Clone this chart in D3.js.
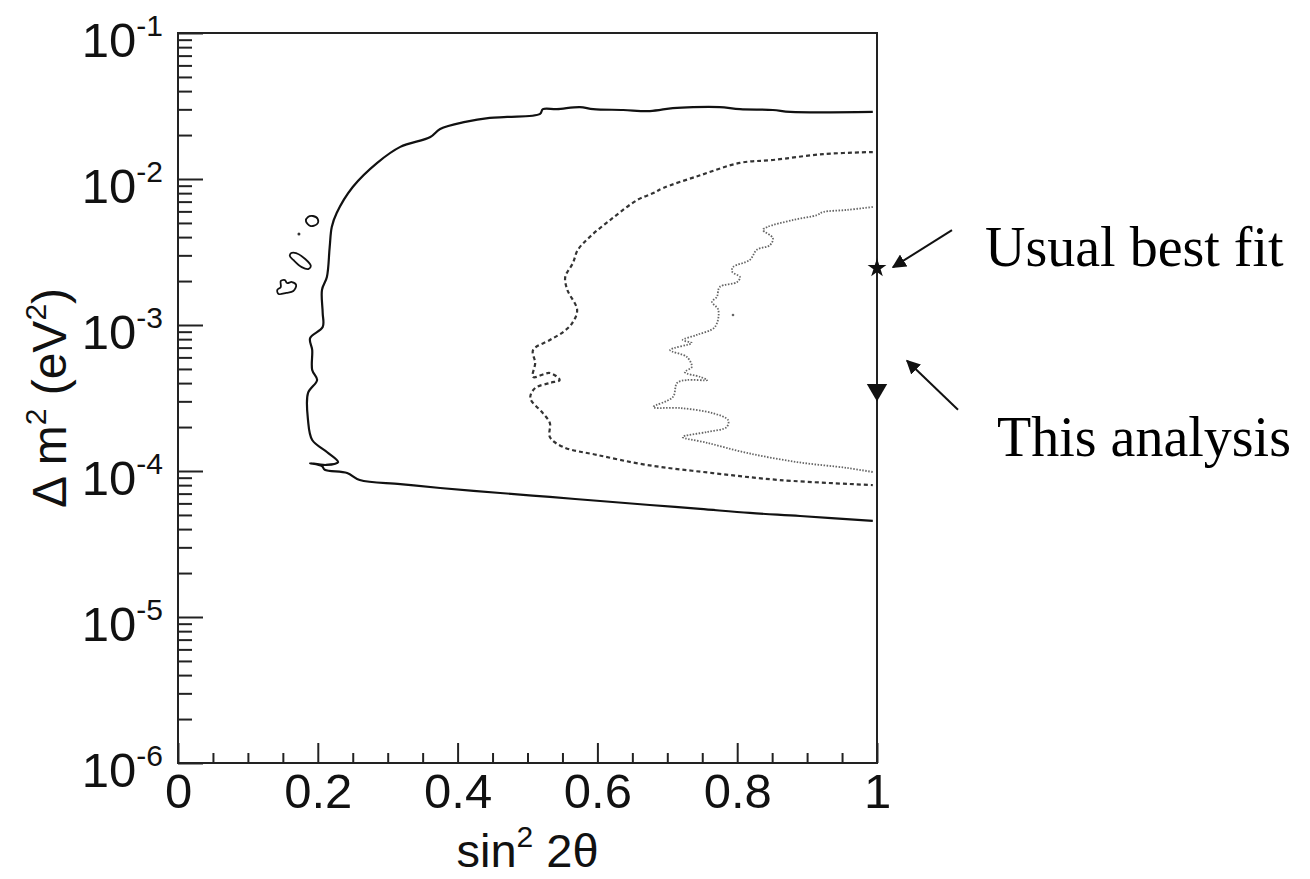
<!DOCTYPE html>
<html>
<meta charset="utf-8">
<style>
  body { margin: 0; background: #fff; }
  .tick line { stroke: #222; stroke-width: 2; }
  .tick text { font-family: "Liberation Sans", Arial, sans-serif; fill: #111; }
  .frame { fill: none; stroke: #222; stroke-width: 2; }
  .contour { fill: none; }
</style>

<body>
  <script src="https://d3js.org/d3.v7.min.js"></script>

  <script>
    let width = 1310,
      height = 879;

    let margin = { top: 33, right: 433, bottom: 116, left: 178 };
    let plotW = width - margin.left - margin.right,
      plotH = height - margin.top - margin.bottom;

    // axis ticks
    let xMajor = [0, 0.2, 0.4, 0.6, 0.8, 1];
    let xMinor = [0.05, 0.1, 0.15, 0.25, 0.3, 0.35, 0.45, 0.5, 0.55, 0.65, 0.7, 0.75, 0.85, 0.9, 0.95];
    let yExponents = [-1, -2, -3, -4, -5, -6];

    // outer contour (solid), [sin^2 2theta, dm^2]
    let contourOuter = [
      [0.994, 2.88e-2], [0.876, 2.88e-2], [0.851, 2.97e-2], [0.804, 3.01e-2], [0.775, 3.11e-2],
      [0.737, 3.11e-2], [0.708, 3.06e-2], [0.675, 2.92e-2], [0.637, 2.97e-2], [0.594, 3.01e-2],
      [0.575, 3.11e-2], [0.542, 3.01e-2], [0.522, 3.01e-2], [0.518, 2.79e-2], [0.471, 2.66e-2],
      [0.446, 2.62e-2], [0.411, 2.46e-2], [0.375, 2.20e-2], [0.361, 1.94e-2], [0.318, 1.66e-2],
      [0.285, 1.29e-2], [0.250, 8.81e-3], [0.227, 5.85e-3], [0.220, 4.69e-3], [0.217, 3.42e-3],
      [0.213, 2.13e-3], [0.206, 1.74e-3], [0.207, 1.21e-3], [0.207, 9.68e-4], [0.189, 8.14e-4],
      [0.192, 6.74e-4], [0.192, 4.92e-4], [0.199, 4.20e-4], [0.186, 3.42e-4], [0.186, 2.23e-4],
      [0.192, 1.63e-4], [0.213, 1.35e-4], [0.229, 1.15e-4], [0.212, 1.10e-4], [0.189, 1.13e-4],
      [0.206, 1.08e-4], [0.210, 1.02e-4], [0.242, 9.68e-5], [0.260, 8.67e-5], [0.318, 8.14e-5],
      [0.375, 7.65e-5], [0.461, 7.07e-5], [0.532, 6.64e-5], [0.604, 6.23e-5], [0.675, 5.85e-5],
      [0.747, 5.50e-5], [0.818, 5.16e-5], [0.890, 4.92e-5], [0.994, 4.55e-5]
    ];

    // middle contour (dashed)
    let contourMiddle = [
      [0.994, 1.53e-2], [0.923, 1.48e-2], [0.851, 1.35e-2], [0.804, 1.29e-2], [0.747, 1.06e-2],
      [0.694, 8.67e-3], [0.680, 8.01e-3], [0.657, 7.18e-3], [0.622, 5.41e-3], [0.589, 4.01e-3],
      [0.572, 3.27e-3], [0.565, 2.66e-3], [0.554, 2.13e-3], [0.557, 1.74e-3], [0.571, 1.27e-3],
      [0.564, 1.03e-3], [0.551, 8.95e-4], [0.532, 7.89e-4], [0.508, 6.74e-4], [0.511, 5.50e-4],
      [0.508, 4.41e-4], [0.532, 4.69e-4], [0.546, 4.20e-4], [0.532, 4.01e-4], [0.511, 3.70e-4],
      [0.504, 3.16e-4], [0.522, 2.49e-4], [0.532, 2.13e-4], [0.532, 1.71e-4], [0.551, 1.46e-4],
      [0.599, 1.29e-4], [0.671, 1.10e-4], [0.765, 9.68e-5], [0.861, 8.67e-5], [0.994, 8.01e-5]
    ];

    // inner contour (dotted)
    let contourInner = [
      [0.994, 6.43e-3], [0.957, 6.14e-3], [0.923, 5.94e-3], [0.914, 5.66e-3], [0.880, 5.24e-3],
      [0.843, 4.69e-3], [0.837, 4.48e-3], [0.851, 3.94e-3], [0.847, 3.53e-3], [0.828, 3.27e-3],
      [0.818, 2.79e-3], [0.794, 2.49e-3], [0.793, 2.31e-3], [0.804, 2.13e-3], [0.800, 1.97e-3],
      [0.775, 1.82e-3], [0.771, 1.56e-3], [0.764, 1.44e-3], [0.773, 1.27e-3], [0.768, 9.68e-4],
      [0.742, 8.55e-4], [0.722, 7.89e-4], [0.735, 7.53e-4], [0.704, 6.74e-4], [0.728, 6.04e-4],
      [0.735, 5.16e-4], [0.725, 4.76e-4], [0.747, 4.41e-4], [0.757, 4.20e-4], [0.728, 4.20e-4],
      [0.714, 4.01e-4], [0.708, 3.21e-4], [0.680, 2.74e-4], [0.718, 2.70e-4], [0.765, 2.49e-4],
      [0.787, 2.23e-4], [0.785, 2.00e-4], [0.757, 1.85e-4], [0.722, 1.71e-4], [0.757, 1.56e-4],
      [0.814, 1.33e-4], [0.886, 1.15e-4], [0.957, 1.05e-4], [0.994, 9.84e-5]
    ];
    let innerSpeck = [[0.794, 1.17e-3]];

    // small closed islands of the outer contour
    let islands = [
      [[0.183, 5.15e-3], [0.186, 5.50e-3], [0.193, 5.58e-3], [0.200, 5.32e-3], [0.199, 4.92e-3], [0.190, 4.76e-3]],
      [[0.162, 3.11e-3], [0.169, 3.11e-3], [0.182, 2.83e-3], [0.190, 2.54e-3], [0.187, 2.42e-3],
       [0.177, 2.49e-3], [0.165, 2.79e-3], [0.160, 2.97e-3]],
      [[0.147, 2.00e-3], [0.153, 2.03e-3], [0.156, 1.94e-3], [0.163, 1.97e-3], [0.169, 1.88e-3],
       [0.165, 1.71e-3], [0.155, 1.66e-3], [0.144, 1.63e-3], [0.142, 1.74e-3], [0.147, 1.82e-3]]
    ];
    let outerSpeck = [[0.173, 4.20e-3]];

    // best fit points
    let usualFit = { s: 1, dm2: 2.45e-3, label: "Usual best fit" };
    let thisFit = { s: 1, dm2: 3.6e-4, label: "This analysis" };

    let svg = d3.select("body").append("svg")
      .attr("width", width)
      .attr("height", height);

    let g = svg.append("g")
      .attr("transform", `translate(${margin.left},${margin.top})`);

    let x = d3.scaleLinear().domain([0, 1]).range([0, plotW]);
    let y = d3.scaleLog().domain([1e-6, 1e-1]).range([plotH, 0]);

    let yMinor = [];
    yExponents.slice(0, -1).forEach(e => {
      for (let k = 2; k <= 9; k++) yMinor.push(k * Math.pow(10, e - 1));
    });

    function drawAxes() {
      // x minor ticks
      g.append("g")
        .attr("transform", `translate(0,${plotH})`)
        .call(d3.axisBottom(x).tickValues(xMinor).tickSize(-10).tickFormat(""))
        .call(a => a.select(".domain").remove());

      // x major ticks + labels
      g.append("g")
        .attr("transform", `translate(0,${plotH})`)
        .call(d3.axisBottom(x).tickValues(xMajor).tickSize(-20).tickPadding(10)
          .tickFormat(d => (d === 0 || d === 1) ? String(d) : d.toFixed(1)))
        .call(a => a.select(".domain").remove())
        .call(a => a.selectAll("text").attr("font-size", 49));

      // y minor ticks
      g.append("g")
        .call(d3.axisLeft(y).tickValues(yMinor).tickSize(-14).tickFormat(""))
        .call(a => a.select(".domain").remove());

      // y major ticks with 10^n labels
      let yAx = g.append("g")
        .call(d3.axisLeft(y).tickValues(yExponents.map(e => Math.pow(10, e))).tickSize(-25).tickFormat(""))
        .call(a => a.select(".domain").remove());

      yAx.selectAll(".tick text").remove();
      yAx.selectAll(".tick").append("text")
        .attr("x", -15)
        .attr("y", 23)
        .attr("text-anchor", "end")
        .each(function (d) {
          let t = d3.select(this);
          t.append("tspan").attr("font-size", 49).text("10");
          t.append("tspan").attr("font-size", 30).attr("dy", -21)
            .text(String(Math.round(Math.log10(d))));
        });

      g.append("rect")
        .attr("class", "frame")
        .attr("width", plotW)
        .attr("height", plotH);
    }

    function drawTitles() {
      let xt = svg.append("text")
        .attr("x", margin.left + plotW / 2)
        .attr("y", 867)
        .attr("text-anchor", "middle")
        .attr("font-family", "Liberation Sans, Arial, sans-serif")
        .attr("font-size", 47)
        .attr("fill", "#111");
      xt.append("tspan").text("sin");
      xt.append("tspan").attr("font-size", 30).attr("dy", -20).text("2");
      xt.append("tspan").attr("dy", 20).text(" 2θ");

      let yt = svg.append("text")
        .attr("transform", `translate(66,${margin.top + plotH / 2}) rotate(-90)`)
        .attr("text-anchor", "middle")
        .attr("font-family", "Liberation Sans, Arial, sans-serif")
        .attr("font-size", 48)
        .attr("fill", "#111");
      yt.append("tspan").text("Δ m");
      yt.append("tspan").attr("font-size", 30).attr("dy", -20).text("2");
      yt.append("tspan").attr("dy", 20).text(" (eV");
      yt.append("tspan").attr("font-size", 30).attr("dy", -20).text("2");
      yt.append("tspan").attr("dy", 20).text(")");
    }

    function drawContours() {
      let line = d3.line()
        .x(d => x(d[0]))
        .y(d => y(d[1]))
        .curve(d3.curveCatmullRom.alpha(0.5));

      let closed = d3.line()
        .x(d => x(d[0]))
        .y(d => y(d[1]))
        .curve(d3.curveCatmullRomClosed.alpha(0.5));

      g.append("path").datum(contourOuter)
        .attr("class", "contour")
        .attr("stroke", "#111").attr("stroke-width", 2.2)
        .attr("d", line);

      g.selectAll(".island").data(islands).join("path")
        .attr("class", "contour island")
        .attr("stroke", "#111").attr("stroke-width", 1.8)
        .attr("d", closed);

      g.selectAll(".ospeck").data(outerSpeck).join("circle")
        .attr("class", "ospeck")
        .attr("cx", d => x(d[0])).attr("cy", d => y(d[1]))
        .attr("r", 1.5).attr("fill", "#333");

      g.append("path").datum(contourMiddle)
        .attr("class", "contour")
        .attr("stroke", "#333").attr("stroke-width", 2.2)
        .attr("stroke-dasharray", "4,3")
        .attr("d", line);

      g.append("path").datum(contourInner)
        .attr("class", "contour")
        .attr("stroke", "#666").attr("stroke-width", 1.8)
        .attr("stroke-dasharray", "1.5,1.5")
        .attr("d", line);

      g.selectAll(".ispeck").data(innerSpeck).join("circle")
        .attr("class", "ispeck")
        .attr("cx", d => x(d[0])).attr("cy", d => y(d[1]))
        .attr("r", 1.3).attr("fill", "#666");
    }

    function drawFits() {
      g.append("path")
        .attr("d", d3.symbol(d3.symbolStar, 110)())
        .attr("transform", `translate(${x(usualFit.s)},${y(usualFit.dm2)})`)
        .attr("fill", "#111");

      g.append("path")
        .attr("d", d3.symbol(d3.symbolTriangle, 180)())
        .attr("transform", `translate(${x(thisFit.s)},${y(thisFit.dm2)}) rotate(180)`)
        .attr("fill", "#111");

      svg.append("defs").append("marker")
        .attr("id", "head")
        .attr("viewBox", "0 0 10 10")
        .attr("refX", 9).attr("refY", 5)
        .attr("markerWidth", 7).attr("markerHeight", 7)
        .attr("orient", "auto")
        .append("path").attr("d", "M0,0L10,5L0,10z").attr("fill", "#111");

      let ux = x(usualFit.s), uy = y(usualFit.dm2);
      g.append("line")
        .attr("x1", ux + 75).attr("y1", uy - 38)
        .attr("x2", ux + 16).attr("y2", uy - 1)
        .attr("stroke", "#111").attr("stroke-width", 2)
        .attr("marker-end", "url(#head)");

      let tx = x(thisFit.s), ty = y(thisFit.dm2);
      g.append("line")
        .attr("x1", tx + 81).attr("y1", ty + 20)
        .attr("x2", tx + 30).attr("y2", ty - 29)
        .attr("stroke", "#111").attr("stroke-width", 2)
        .attr("marker-end", "url(#head)");

      g.append("text")
        .attr("x", ux + 108).attr("y", uy - 2)
        .attr("font-family", "Liberation Serif, Times New Roman, serif")
        .attr("font-size", 56)
        .attr("fill", "#000")
        .text(usualFit.label);

      g.append("text")
        .attr("x", tx + 120).attr("y", ty + 66)
        .attr("font-family", "Liberation Serif, Times New Roman, serif")
        .attr("font-size", 56)
        .attr("fill", "#000")
        .text(thisFit.label);
    }

    drawAxes();
    drawContours();
    drawFits();
    drawTitles();
  </script>

</body>

</html>
